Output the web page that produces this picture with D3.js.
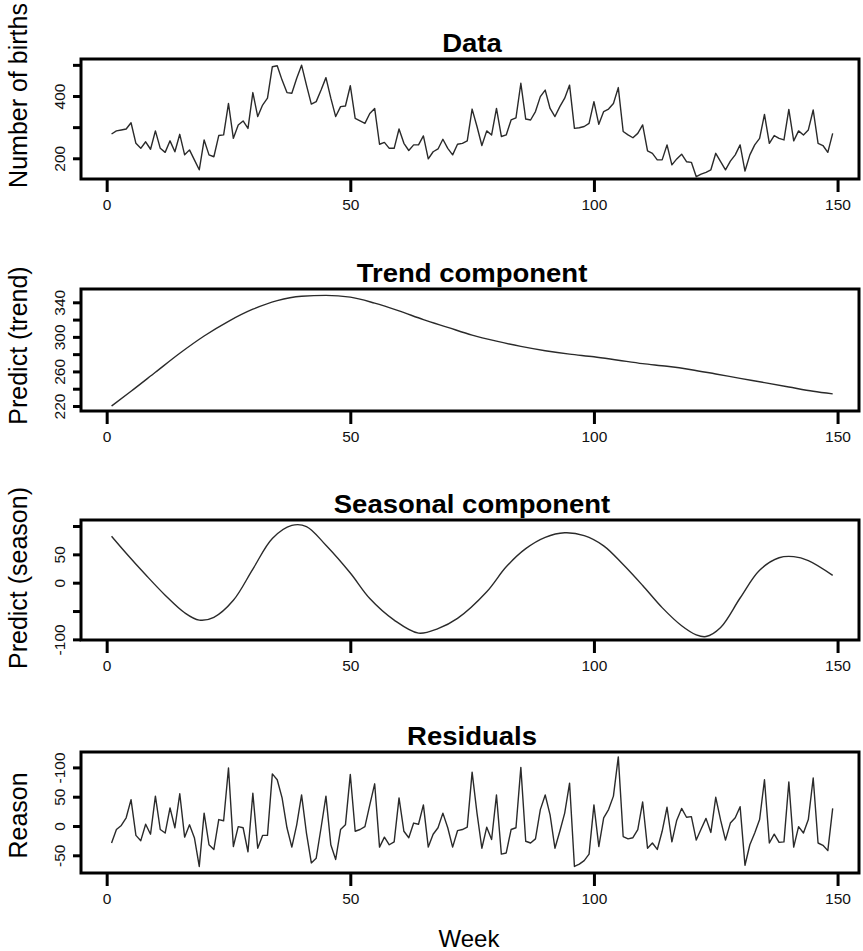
<!DOCTYPE html>
<html>
<head>
<meta charset="utf-8">
<script src="https://cdn.jsdelivr.net/npm/d3@7"></script>
<style>
  html, body { margin: 0; padding: 0; background: #fff; }
  svg { display: block; font-family: "Liberation Sans", Arial, Helvetica, sans-serif; }
</style>
</head>
<body>
<svg id="chart" width="863" height="951"></svg>
<script>
// Weekly births series and its decomposition
const weeks = d3.range(1, 150);

const births = [
  278, 288, 291, 294, 314, 248, 232, 253, 229, 288,
  232, 219, 256, 221, 277, 211, 227, 195, 163, 259,
  211, 205, 273, 275, 376, 264, 307, 320, 296, 411,
  334, 371, 393, 494, 497, 451, 411, 409, 457, 499,
  435, 374, 382, 419, 459, 393, 334, 366, 368, 433,
  328, 320, 312, 344, 360, 245, 251, 232, 232, 294,
  248, 225, 243, 243, 272, 198, 221, 230, 261, 232,
  211, 245, 248, 256, 358, 302, 241, 288, 275, 360,
  270, 275, 323, 330, 441, 326, 323, 350, 398, 419,
  360, 334, 366, 393, 435, 296, 298, 302, 312, 382,
  309, 350, 358, 376, 427, 286, 275, 266, 280, 307,
  224, 216, 195, 195, 243, 179, 198, 213, 189, 187,
  141, 149, 155, 163, 216, 189, 163, 191, 211, 243,
  159, 211, 243, 264, 341, 248, 273, 264, 259, 357,
  256, 288, 275, 291, 355, 248, 241, 219, 280
];

// Smooth components, read at selected weeks
const trendWeeks  = [1, 5, 10, 15, 20, 25, 30, 35, 40, 45, 50, 55, 60, 65, 70, 75, 80, 85, 90, 95,
                     100, 105, 110, 115, 120, 125, 130, 135, 140, 145, 149];
const trendValues = [220, 237, 259, 281, 301, 318, 332, 342, 347, 348, 346, 339, 330, 320, 311, 302, 295, 289, 284, 280,
                     277, 273, 269, 266, 262, 257, 252, 247, 242, 237, 234];

const seasonWeeks  = [1, 4, 8, 12, 16, 19, 22, 26, 30, 34, 38, 41, 45, 50, 54, 59, 64, 68, 72, 78,
                      82, 86, 90, 94, 98, 102, 106, 110, 114, 118, 121, 123, 126, 130, 134, 138, 141, 144, 149];
const seasonValues = [82, 52, 14, -22, -53, -66, -61, -31, 24, 78, 101, 99, 66, 17, -28, -66, -89, -81, -63, -16,
                      28, 60, 80, 88, 83, 65, 32, -5, -44, -76, -92, -95, -79, -27, 22, 44, 46, 39, 13];

const residuals = [
  -29, -6, 1, 14, 45, -16, -25, 3, -14, 51,
  -6, -12, 31, -3, 55, -19, 2, -20, -69, 22,
  -32, -40, 11, 9, 99, -35, -1, -3, -44, 56,
  -38, -16, -16, 89, 79, 48, -3, -36, 2, 53,
  -12, -63, -55, -3, 51, -32, -57, -6, 2, 88,
  -9, -6, -1, 36, 72, -36, -19, -32, -27, 48,
  -9, -20, 5, 3, 36, -36, -14, -3, 22, -3,
  -36, -8, -6, -2, 92, 22, -38, -2, -23, 53,
  -48, -46, -6, -3, 100, -26, -29, -22, 28, 53,
  19, -38, -9, 22, 73, -69, -65, -59, -48, 36,
  -35, 14, 28, 51, 118, -18, -22, -20, -6, 41,
  -38, -29, -40, -9, 32, -27, 10, 30, 15, 16,
  -24, -5, 13, -11, 49, 10, -24, 5, 14, 33,
  -67, -32, -12, 11, 79, -29, -14, -28, -27, 75,
  -36, -1, -12, 11, 82, -29, -33, -42, 30
];

// Axis ticks and their printed labels (blank where the label is skipped)
const xTicks = [0, 50, 100, 150];
const xTickLabels = ["0", "50", "100", "150"];

const birthsTicks = [200, 300, 400, 500];
const birthsTickLabels = ["200", "", "400", ""];
const trendTicks = [220, 240, 260, 280, 300, 320, 340];
const trendTickLabels = ["220", "", "260", "", "300", "", "340"];
const seasonTicks = [-100, -50, 0, 50, 100];
const seasonTickLabels = ["-100", "", "0", "50", ""];
const residTicks = [-50, 0, 50, 100];
const residTickLabels = ["-50", "0", "50", "-100"];

const titles = ["Data", "Trend component", "Seasonal component", "Residuals"];
const yTitles = ["Number of births", "Predict (trend)", "Predict (season)", "Reason"];
const xTitle = "Week";

const svg = d3.select("#chart");

const left = 81, right = 859;
const x = d3.scaleLinear().domain([-5.27, 154.4]).range([left, right]);

const panels = [
  { top: 59,  bottom: 179, domain: [133.5, 518.8], pts: weeks.map((w, i) => [w, births[i]]),
    curve: d3.curveLinear, ticks: birthsTicks, labels: birthsTickLabels, titleCenter: 95.5 },
  { top: 289, bottom: 411, domain: [214.2, 355.4], pts: trendWeeks.map((w, i) => [w, trendValues[i]]),
    curve: d3.curveMonotoneX, ticks: trendTicks, labels: trendTickLabels, titleCenter: 345.5 },
  { top: 520, bottom: 640, domain: [-101.1, 110.6], pts: seasonWeeks.map((w, i) => [w, seasonValues[i]]),
    curve: d3.curveCatmullRom, ticks: seasonTicks, labels: seasonTickLabels, titleCenter: 578 },
  { top: 752, bottom: 873, domain: [-80.2, 126.3], pts: weeks.map((w, i) => [w, residuals[i]]),
    curve: d3.curveLinear, ticks: residTicks, labels: residTickLabels, titleCenter: 815.5 }
];

panels.forEach((p, k) => {
  const y = d3.scaleLinear().domain(p.domain).range([p.bottom, p.top]);
  const g = svg.append("g");

  // series line
  g.append("path")
    .datum(p.pts)
    .attr("fill", "none")
    .attr("stroke", "#2a2a2a")
    .attr("stroke-width", 1.4)
    .attr("stroke-linejoin", "round")
    .attr("d", d3.line().x(d => x(d[0])).y(d => y(d[1])).curve(p.curve));

  // x axis: ticks below the frame
  const xa = g.append("g").attr("transform", `translate(0,${p.bottom})`)
    .call(d3.axisBottom(x).tickValues(xTicks).tickFormat((d, i) => xTickLabels[i])
      .tickSize(13).tickPadding(7));
  xa.select(".domain").remove();
  xa.selectAll(".tick line").attr("stroke", "#000").attr("stroke-width", 3);
  xa.selectAll(".tick text").attr("font-size", 15.5).attr("fill", "#111")
    .attr("font-family", "Liberation Sans, Arial, sans-serif").attr("dy", "0.72em");

  // y axis: ticks left of the frame, labels parallel to the axis
  const ya = g.append("g").attr("transform", `translate(${left},0)`)
    .call(d3.axisLeft(y).tickValues(p.ticks).tickFormat((d, i) => p.labels[i]).tickSize(8).tickPadding(0));
  ya.select(".domain").remove();
  ya.selectAll(".tick line").attr("stroke", "#000").attr("stroke-width", 3);
  ya.selectAll(".tick text")
    .attr("font-size", 15.5).attr("fill", "#111")
    .attr("font-family", "Liberation Sans, Arial, sans-serif")
    .attr("text-anchor", "middle")
    .attr("x", null).attr("dy", null)
    .attr("transform", "translate(-16,0) rotate(-90)");

  // frame
  g.append("rect")
    .attr("x", left).attr("y", p.top)
    .attr("width", right - left).attr("height", p.bottom - p.top)
    .attr("fill", "none").attr("stroke", "#000").attr("stroke-width", 3);

  // panel title
  g.append("text")
    .attr("transform", `translate(472,${p.top - 7.5}) scale(1.1,1)`)
    .attr("text-anchor", "middle")
    .attr("font-size", 25).attr("font-weight", "bold").attr("fill", "#000")
    .text(titles[k]);

  // y axis title
  g.append("text")
    .attr("transform", `translate(27,${p.titleCenter}) rotate(-90)`)
    .attr("text-anchor", "middle")
    .attr("font-size", 25).attr("fill", "#000")
    .text(yTitles[k]);
});

svg.append("text")
  .attr("x", 469).attr("y", 947)
  .attr("text-anchor", "middle")
  .attr("font-size", 24).attr("fill", "#000")
  .text(xTitle);
</script>
</body>
</html>
